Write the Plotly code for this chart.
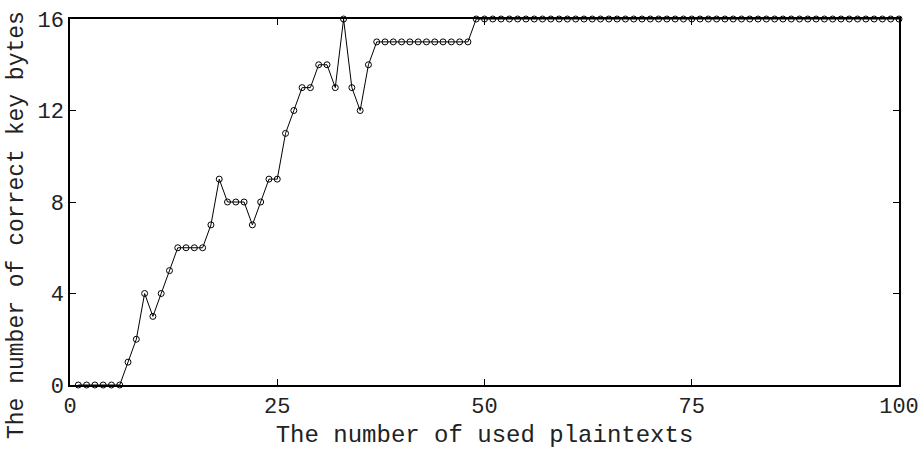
import plotly.graph_objects as go

num_plaintexts = list(range(1, 101))
correct_key_bytes = (
    [0, 0, 0, 0, 0, 0, 1, 2, 4, 3,
     4, 5, 6, 6, 6, 6, 7, 9, 8, 8,
     8, 7, 8, 9, 9, 11, 12, 13, 13, 14,
     14, 13, 16, 13, 12, 14, 15, 15, 15, 15,
     15, 15, 15, 15, 15, 15, 15, 15, 16, 16]
    + [16] * 50
)
x_ticks = [0, 25, 50, 75, 100]
y_ticks = [0, 4, 8, 12, 16]

FONT = "Courier New, Liberation Mono, monospace"

fig = go.Figure()
fig.add_trace(go.Scatter(
    x=num_plaintexts,
    y=correct_key_bytes,
    mode="lines+markers",
    line=dict(color="black", width=1),
    marker=dict(symbol="circle-open", size=6, color="black", line=dict(width=1, color="black")),
    cliponaxis=False,
    showlegend=False,
))

axis_common = dict(
    showline=True, linecolor="black", linewidth=1.5, mirror="ticks",
    ticks="inside", ticklen=6, tickcolor="black", tickwidth=1,
    showgrid=False, zeroline=False, automargin=False,
    tickfont=dict(family=FONT, size=22, color="#222"),
)

fig.update_layout(
    width=919, height=456,
    margin=dict(l=70, r=20, t=19, b=71),
    paper_bgcolor="white", plot_bgcolor="white",
    font=dict(family=FONT, color="#222"),
    xaxis=dict(
        range=[0, 100], tickvals=x_ticks, ticktext=[str(v) for v in x_ticks],
        title=dict(text="The number of used plaintexts", font=dict(family=FONT, size=24), standoff=6),
        **axis_common,
    ),
    yaxis=dict(
        range=[0, 16], tickvals=y_ticks, ticktext=[str(v) for v in y_ticks],
        **axis_common,
    ),
    annotations=[dict(
        text="The number of correct key bytes",
        xref="paper", yref="paper", x=-0.064, y=0.437,
        xanchor="center", yanchor="middle", textangle=-90, showarrow=False,
        font=dict(family=FONT, size=23, color="#222"),
    )],
)

fig.write_html("out.html")
